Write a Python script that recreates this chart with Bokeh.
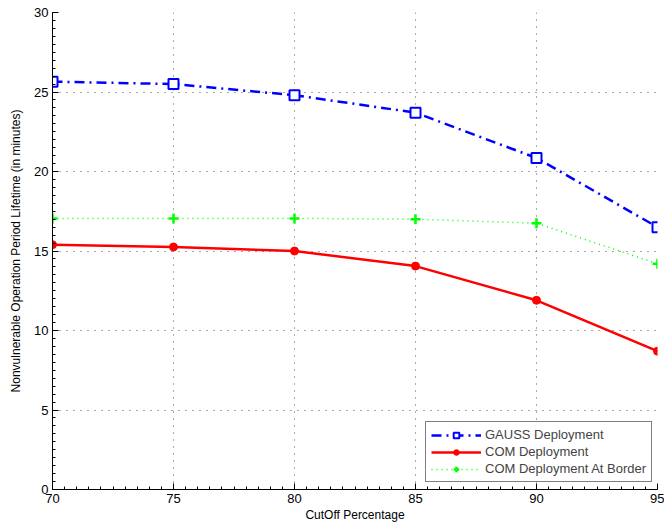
from bokeh.plotting import figure
from bokeh.embed import file_html
from bokeh.resources import INLINE
from bokeh.models import Range1d, FixedTicker, Legend, LegendItem

cutoff = [70, 75, 80, 85, 90, 95]
gauss = [25.65, 25.5, 24.8, 23.7, 20.85, 16.5]
com = [15.4, 15.25, 15.0, 14.05, 11.9, 8.7]
border = [17.05, 17.05, 17.05, 17.0, 16.75, 14.2]
x_ticks = [70, 75, 80, 85, 90, 95]
y_ticks = [0, 5, 10, 15, 20, 25, 30]

FONT = "Liberation Sans"

p = figure(width=664, height=529, output_backend="svg", toolbar_location=None,
           x_range=Range1d(70, 95), y_range=Range1d(0, 30),
           min_border_left=52, min_border_right=7, min_border_top=12, min_border_bottom=40)
p.outline_line_color = None
p.background_fill_color = "white"
p.border_fill_color = "white"

for ax in (p.xaxis[0], p.yaxis[0]):
    ax.axis_line_color = "black"
    ax.major_tick_line_color = "black"
    ax.minor_tick_line_color = "black"
    ax.major_tick_in = 6
    ax.major_tick_out = 0
    ax.minor_tick_in = 3
    ax.minor_tick_out = 0
    ax.major_label_text_font = FONT
    ax.major_label_text_font_size = "13px"
    ax.major_label_text_color = "black"
    ax.axis_label_text_font = FONT
    ax.axis_label_text_font_size = "12px"
    ax.axis_label_text_font_style = "normal"
    ax.axis_label_text_color = "black"

p.xaxis.ticker = FixedTicker(ticks=x_ticks, minor_ticks=[70 + 0.5 * i for i in range(51)])
p.yaxis.ticker = FixedTicker(ticks=y_ticks, minor_ticks=[0.5 * i for i in range(61)])
p.xaxis.axis_label = "CutOff Percentage"
p.yaxis.axis_label = "Nonvulnerable Operation Period Lifetime (in minutes)"
p.xaxis.major_label_standoff = 4
p.yaxis.major_label_standoff = 4
p.xaxis.axis_label_standoff = 2
p.yaxis.axis_label_standoff = 8

for g in (p.xgrid[0], p.ygrid[0]):
    g.grid_line_color = "#444444"
    g.grid_line_dash = "1 6"
    g.grid_line_width = 1
    g.grid_line_alpha = 0.9

r1 = p.line(cutoff, gauss, line_color="#0000ff", line_width=2.5, line_dash="10 5 2 5")
r1m = p.scatter(cutoff, gauss, marker="square", size=10, line_color="#0000ff",
                fill_color="white", line_width=2)
r2 = p.line(cutoff, com, line_color="#ff0000", line_width=2.5)
r2m = p.scatter(cutoff, com, marker="circle", size=8, line_color="#ff0000",
                fill_color="#ff0000")
r3 = p.line(cutoff, border, line_color="#00ff00", line_width=1.5, line_dash="1 4")
r3m = p.scatter(cutoff, border, marker="cross", size=10, line_color="#00ff00",
                line_width=2.5)

legend = Legend(items=[
    LegendItem(label="GAUSS Deployment", renderers=[r1, r1m]),
    LegendItem(label="COM Deployment", renderers=[r2, r2m]),
    LegendItem(label="COM Deployment At Border", renderers=[r3, r3m]),
], location=(373, 7))
legend.border_line_color = "black"
legend.border_line_width = 1
legend.background_fill_color = "white"
legend.background_fill_alpha = 1
legend.label_text_font = FONT
legend.label_text_font_size = "13px"
legend.glyph_width = 50
legend.glyph_height = 14
legend.label_height = 14
legend.label_standoff = 4
legend.spacing = 2
legend.padding = 5
legend.margin = 0
p.add_layout(legend, "center")

open("out.html", "w").write(file_html(p, INLINE))
